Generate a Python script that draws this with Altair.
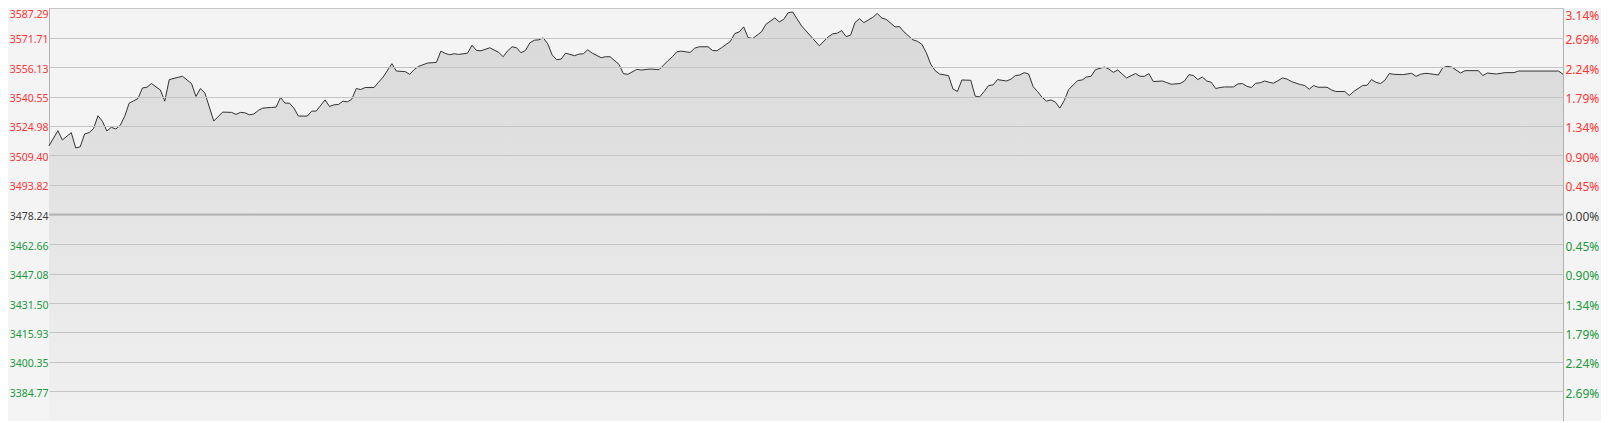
import altair as alt
import pandas as pd

PREV_CLOSE = 3478.24
Y_MIN = 3369.19
Y_MAX = 3587.29
X_MAX = 340

minutes = [0, 2, 3, 5, 6, 7, 8, 9, 10, 11, 12, 13, 14, 15, 16, 17, 18, 19, 20, 21, 22, 23, 25, 26, 27, 29, 30,
           32, 33, 34, 35, 37, 39, 41, 42, 43, 44, 45, 46, 47, 48, 50, 51, 52, 53, 54, 55, 56, 58, 59, 60,
           62, 63, 64, 65, 66, 67, 68, 69, 70, 71, 73, 74, 75, 77, 78, 80, 81, 82, 83, 85, 87, 88, 89, 90,
           91, 92, 94, 95, 96, 97, 99, 101, 102, 103, 104, 105, 106, 107, 108, 109, 110, 111, 112, 113, 114,
           115, 116, 117, 118, 119, 120, 121, 122, 124, 125, 126, 128, 129, 130, 132, 133, 135, 137, 139, 140,
           141, 142, 144, 145, 146, 148, 149, 150, 151, 153, 154, 155, 156, 157, 158, 160, 161, 163, 164, 165,
           166, 167, 169, 171, 173, 175, 176, 177, 178, 179, 180, 181, 182, 183, 185, 186, 187, 188, 190, 191,
           192, 194, 195, 196, 197, 198, 199, 200, 202, 203, 204, 205, 207, 208, 209, 210, 211, 212, 213, 215,
           216, 217, 218, 219, 220, 221, 222, 223, 224, 225, 226, 227, 228, 229, 231, 232, 233, 234, 235, 237,
           238, 239, 240, 242, 244, 245, 246, 247, 248, 250, 251, 252, 254, 255, 256, 257, 258, 259, 260, 261,
           262, 263, 264, 266, 267, 268, 269, 270, 271, 272, 273, 274, 275, 277, 278, 279, 281, 282, 283, 284,
           285, 287, 288, 289, 291, 292, 293, 295, 296, 297, 298, 299, 300, 301, 302, 304, 306, 307, 308, 309,
           310, 312, 313, 314, 315, 317, 318, 321, 322, 323, 325, 327, 329, 330, 339, 340]

prices = [3514.47, 3522.50, 3517.62, 3521.45, 3513.42, 3513.94, 3520.77, 3521.45, 3523.55, 3530.38, 3527.44,
          3522.34, 3524.29, 3523.39, 3525.34, 3530.06, 3537.04, 3538.25, 3539.51, 3545.08, 3545.44, 3547.39,
          3544.03, 3538.09, 3549.49, 3550.69, 3551.22,
          3547.39, 3540.56, 3544.76, 3542.45, 3527.59, 3532.32, 3532.16, 3531.11, 3532.16, 3531.95, 3530.90,
          3531.27, 3533.21, 3534.42, 3534.79, 3534.94, 3540.04, 3537.04, 3537.04, 3534.42, 3530.22, 3530.22,
          3532.84, 3532.84,
          3538.78, 3535.31, 3536.15, 3536.36, 3538.09, 3537.73, 3539.14, 3544.76, 3544.24, 3545.29, 3545.29,
          3548.07, 3550.69, 3557.89, 3554.00, 3553.69, 3552.27, 3554.74, 3556.47, 3558.20, 3558.57, 3564.50,
          3563.29, 3562.61,
          3563.14, 3562.77, 3563.45, 3567.65, 3564.87, 3564.71, 3566.29, 3563.82, 3561.56, 3564.71, 3566.81,
          3566.29, 3563.66, 3564.87, 3568.91, 3570.28, 3570.49, 3571.54, 3568.39, 3562.51, 3559.99,
          3560.30, 3563.45, 3562.77, 3562.09, 3562.93, 3563.14, 3565.24, 3563.45, 3561.04, 3561.56, 3561.56,
          3557.52, 3552.64, 3552.27, 3554.89, 3554.53, 3555.05, 3554.74, 3559.46, 3561.56,
          3564.19, 3564.50, 3563.82, 3566.08, 3566.81, 3566.81, 3564.87, 3564.71, 3566.29, 3569.59, 3573.79,
          3574.69, 3577.31, 3571.69, 3571.17, 3574.69, 3578.68, 3582.04, 3579.94, 3581.30,
          3584.82, 3585.19, 3577.84, 3572.59, 3567.34, 3572.06, 3573.64, 3573.95, 3575.37, 3572.22, 3572.90,
          3579.57, 3581.67, 3579.57, 3582.35, 3584.45, 3582.04, 3581.30, 3577.31, 3577.47,
          3574.69, 3570.49, 3569.75, 3568.18, 3563.82, 3557.68, 3554.21, 3552.43, 3551.59, 3544.55, 3543.19,
          3549.28, 3549.12, 3540.72, 3540.35, 3543.19, 3546.34, 3546.65, 3549.49, 3548.75,
          3549.64, 3551.59, 3551.90, 3553.16, 3552.43, 3545.81, 3543.19, 3540.19, 3538.09, 3538.78, 3537.57,
          3534.42, 3538.46, 3544.24, 3548.96, 3549.28, 3550.85, 3551.22, 3554.74, 3556.10,
          3555.05, 3553.32, 3554.53, 3550.33, 3552.70, 3551.22, 3551.22, 3552.64, 3548.44, 3548.75, 3547.91,
          3547.02, 3547.39, 3548.75, 3552.11, 3551.59, 3549.49, 3550.85, 3548.75, 3548.07,
          3544.76, 3545.29, 3545.60, 3545.60, 3547.18, 3547.39, 3545.97, 3545.29, 3547.54, 3547.80, 3548.75,
          3548.07, 3547.54, 3550.33, 3549.80, 3548.44, 3546.86, 3546.34, 3544.39, 3546.34,
          3545.44, 3545.44, 3544.03, 3543.19, 3543.19, 3541.09, 3543.19, 3546.34, 3546.49, 3549.49, 3548.07,
          3547.39, 3549.12, 3552.69, 3552.27, 3552.11, 3552.79, 3551.22, 3552.27, 3552.79,
          3552.64, 3551.90, 3555.79, 3556.47, 3556.10, 3552.95, 3554.21, 3554.21, 3551.59, 3552.95, 3552.43,
          3553.16, 3553.16, 3554.00, 3554.00, 3552.27]

assert len(minutes) == len(prices), (len(minutes), len(prices))

tick_values = [3587.29, 3571.71, 3556.13, 3540.55, 3524.98, 3509.40, 3493.82, 3478.24,
               3462.66, 3447.08, 3431.50, 3415.93, 3400.35, 3384.77]
grid_minutes = [30, 60, 90, 120, 150, 180, 210, 240, 270, 300, 330]

df = pd.DataFrame({"minute": minutes, "price": prices})
ref_df = pd.DataFrame({"price": [PREV_CLOSE]})

FONT = "Noto Sans"
RED = "#ff3333"
GREEN = "#1a9a3c"
GRAY = "#404040"

label_color = {
    "condition": [
        {"test": f"abs(datum.value - {PREV_CLOSE}) < 0.01", "value": GRAY},
        {"test": f"datum.value > {PREV_CLOSE}", "value": RED},
    ],
    "value": GREEN,
}


def label_offset(top_offset):
    return {"condition": {"test": f"datum.value > {Y_MAX - 0.5}", "value": top_offset}, "value": 2}


x_enc = alt.X(
    "minute:Q",
    scale=alt.Scale(domain=[0, X_MAX], nice=False, zero=False),
    axis=alt.Axis(
        values=grid_minutes, labels=False, ticks=False, domain=False, title=None,
        grid=True, zindex=1,
        gridColor={"condition": {"test": "datum.value == 150 || datum.value == 330", "value": "#b8b8b8"},
                   "value": "#c4c4c4"},
        gridDash={"condition": {"test": "datum.value == 150 || datum.value == 330", "value": []},
                  "value": [1, 2]},
    ),
)

y_scale = alt.Scale(domain=[Y_MIN, Y_MAX], nice=False, zero=False)

area = alt.Chart(df).mark_area(
    line=False,
    color=alt.Gradient(
        gradient="linear",
        stops=[alt.GradientStop(color="#d8d8d8", offset=0),
               alt.GradientStop(color="#f1f1f1", offset=1)],
        x1=0, x2=0, y1=0, y2=1,
    ),
).encode(
    x=x_enc,
    y=alt.Y("price:Q", scale=y_scale, axis=alt.Axis(
        orient="left", values=tick_values, format=".2f", title=None,
        labelColor=label_color, labelFont=FONT, labelFontSize=10.5, labelPadding=1,
        labelBaseline="middle", labelOffset=label_offset(6), labelOverlap=False, labelFlush=False,
        ticks=False, domain=False, grid=True, gridColor="#c4c4c4", zindex=1,
    )),
    y2=alt.datum(Y_MIN),
)

ref = alt.Chart(ref_df).mark_rule(color="#b4b4b4", strokeWidth=2).encode(
    y=alt.Y("price:Q", scale=y_scale, axis=None),
)

line = alt.Chart(df).mark_line(color="#333333", strokeWidth=1).encode(
    x=alt.X("minute:Q", scale=alt.Scale(domain=[0, X_MAX], nice=False, zero=False), axis=None),
    y=alt.Y("price:Q", scale=y_scale, axis=alt.Axis(
        orient="right", values=tick_values, title=None,
        labelExpr=f"format(abs(datum.value - {PREV_CLOSE}) / {PREV_CLOSE} * 100, '.2f') + '%'",
        labelColor=label_color, labelFont=FONT, labelFontSize=12, labelPadding=2,
        labelBaseline="middle", labelOffset=label_offset(7), labelOverlap=False, labelFlush=False,
        ticks=False, domain=False, grid=False,
    )),
)

chart = alt.layer(area, ref, line).resolve_scale(y="shared").resolve_axis(y="independent").properties(
    width=1514,
    height=413,
    autosize=alt.AutoSizeParams(type="none"),
    padding={"left": 41, "top": 0, "right": 38, "bottom": 0},
    background="#f4f4f4",
).configure_view(
    stroke="#b0b0b0", strokeWidth=1, fill="#f4f4f4",
)

chart.save("out.html", embed_options={"renderer": "svg", "actions": False})
